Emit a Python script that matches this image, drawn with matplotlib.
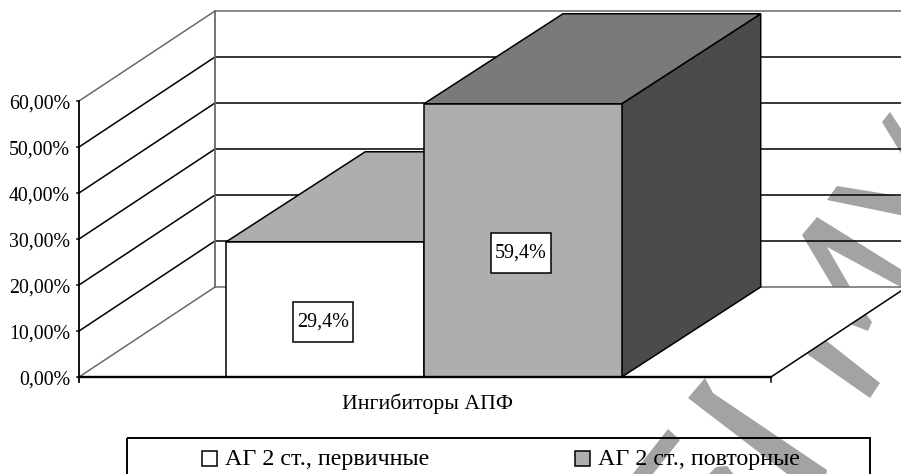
import matplotlib
matplotlib.use("Agg")
import matplotlib.pyplot as plt
from matplotlib.patches import Polygon, Rectangle

plt.rcParams['font.family'] = ['Liberation Serif', 'DejaVu Sans']

# Данные
category = "Ингибиторы АПФ"
series_names = ["АГ 2 ст., первичные", "АГ 2 ст., повторные"]
series_values = [29.4, 59.4]
tick_values = [0, 10, 20, 30, 40, 50, 60]

# Псевдо-3D проекция в пикселях картинки
X0, Y0 = 79, 377
PLOT_W = 692
Y_SCALE = 4.6
WALL_DX, WALL_DY = 136, 90
BAR_DX = 139
GAP = 1.5  # ширина зазора в ширинах столбца

fig = plt.figure(figsize=(9.01, 4.74), dpi=100)
ax = fig.add_axes([0, 0, 1, 1])
ax.set_xlim(0, 901)
ax.set_ylim(474, 0)
ax.axis('off')


def sy(v, back=False):
    return Y0 - v * Y_SCALE - (WALL_DY if back else 0)


LINE = 1.1
WALL_GREY = '#6a6a6a'
WM = '#a3a3a3'

# Водяной знак (серые штрихи на фоне)
strokes = [
    [(882, 122), (890, 112), (915, 150), (905, 160)],
    [(827, 200), (837, 186), (905, 197), (905, 216)],
    [(802, 235), (817, 217), (910, 275), (910, 292), (827, 247), (853, 292), (836, 292)],
    [(800, 320), (880, 383), (870, 398), (780, 335)],
    [(860, 306), (872, 322), (868, 331), (840, 320)],
    [(688, 398), (705, 378), (713, 393), (827, 470), (825, 480), (795, 480)],
    [(668, 429), (680, 440), (648, 480), (628, 480)],
    [(707, 476), (716, 467), (727, 466), (735, 476)],
]
for pts in strokes:
    ax.add_patch(Polygon(pts, fc=WM, ec='none', zorder=0))

# Пол и стены
xr = X0 + PLOT_W
ax.add_patch(Polygon([(X0, Y0), (xr, Y0), (xr + WALL_DX, sy(0, True)), (X0 + WALL_DX, sy(0, True))],
                     fc='white', ec='none', zorder=1))
for v in tick_values:
    c = WALL_GREY if v in (tick_values[0], tick_values[-1]) else 'black'
    ax.plot([X0, X0 + WALL_DX, 901 + 10], [sy(v), sy(v, True), sy(v, True)], color=c, lw=LINE, zorder=2)
ax.plot([X0 + WALL_DX] * 2, [sy(0, True), sy(tick_values[-1], True)], color=WALL_GREY, lw=LINE + 0.2, zorder=2)
ax.plot([xr, xr + WALL_DX], [Y0, sy(0, True)], color='black', lw=LINE, zorder=2)

# Столбцы
bar_w = PLOT_W / (len(series_values) + GAP)
front_colors = ['white', '#aeaeae']
top_colors = ['#aeaeae', '#7a7a7a']
side_colors = ['#7a7a7a', '#4b4b4b']
for i, v in enumerate(series_values):
    xl = X0 + (GAP / 2 + i) * bar_w - 1
    xh = xl + bar_w
    yt, yb = sy(v), sy(0)
    ytb, ybb = sy(v, True), sy(0, True)
    ax.add_patch(Polygon([(xh, yb), (xh + BAR_DX, ybb), (xh + BAR_DX, ytb), (xh, yt)],
                         fc=side_colors[i], ec='black', lw=LINE, zorder=3 + i))
    ax.add_patch(Polygon([(xl, yt), (xl + BAR_DX, ytb), (xh + BAR_DX, ytb), (xh, yt)],
                         fc=top_colors[i], ec='black', lw=LINE, zorder=3 + i))
    ax.add_patch(Rectangle((xl, yt), bar_w, yb - yt, fc=front_colors[i], ec='black', lw=LINE, zorder=3 + i))
    # Подпись значения
    lx, ly = (xl + xh) / 2 - 2, (yt + yb) / 2 + 13
    ax.add_patch(Rectangle((lx - 30, ly - 20), 60, 40, fc='white', ec='black', lw=LINE, zorder=6))
    ax.text(lx, ly, f"{v:.1f}%".replace('.', ','), fontsize=14.5, ha='center', va='center', zorder=7)

# Оси
ax.plot([X0, X0], [sy(tick_values[-1]), Y0 + 5], color='black', lw=LINE + 0.2, zorder=8)
ax.plot([X0, xr], [Y0, Y0], color='black', lw=LINE + 0.6, zorder=8)
ax.plot([xr, xr], [Y0, Y0 + 5], color='black', lw=LINE, zorder=8)
for v in tick_values:
    ax.plot([X0 - 2, X0], [sy(v), sy(v)], color='black', lw=LINE, zorder=8)
    ax.text(70, sy(v) + 3, f"{v:.2f}%".replace('.', ','), fontsize=14.3, ha='right', va='center')

ax.text(427, 404, category, fontsize=15.7, ha='center', va='center')

# Легенда (нижняя граница за краем картинки)
ax.add_patch(Rectangle((126.5, 438), 743, 60, fc='none', ec='black', lw=LINE + 0.3, zorder=9))
legend_x = [202, 575]
legend_colors = ['white', '#aeaeae']
for x, name, c in zip(legend_x, series_names, legend_colors):
    ax.add_patch(Rectangle((x, 451), 15, 15, fc=c, ec='black', lw=LINE, zorder=9))
    ax.text(x + 23, 459, name, fontsize=17.3, ha='left', va='center', zorder=9)

fig.savefig('out.png', dpi=100)
